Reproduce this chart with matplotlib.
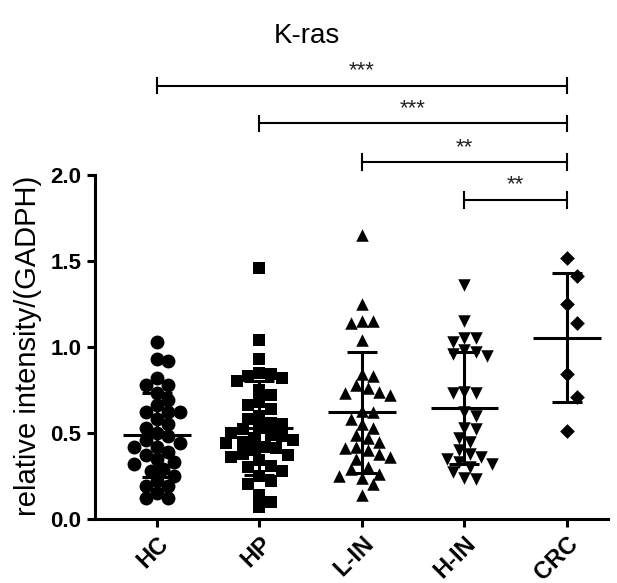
"""
K-ras relative intensity by group: scatter with mean +/- SD and significance brackets.
"""
import numpy as np
import matplotlib
matplotlib.use("Agg")
import matplotlib.pyplot as plt

plt.rcParams["font.family"] = ["Liberation Sans", "DejaVu Sans"]

# ---------------------------------------------------------------------------
# data
# ---------------------------------------------------------------------------
groups = ["HC", "HP", "L-IN", "H-IN", "CRC"]

hc = [1.03, 0.93, 0.92, 0.82, 0.78, 0.78, 0.73, 0.69, 0.66, 0.62, 0.62, 0.62,
      0.58, 0.55, 0.53, 0.50, 0.48, 0.46, 0.44, 0.42, 0.42, 0.39, 0.37, 0.35,
      0.33, 0.32, 0.29, 0.28, 0.25, 0.22, 0.19, 0.19, 0.15, 0.12, 0.12]
hp = [1.46, 1.04, 0.93, 0.85, 0.84, 0.83, 0.82, 0.80, 0.75, 0.72, 0.68, 0.66,
      0.64, 0.60, 0.58, 0.56, 0.55, 0.53, 0.52, 0.50, 0.49, 0.48, 0.47, 0.46,
      0.45, 0.44, 0.42, 0.41, 0.40, 0.38, 0.37, 0.36, 0.34, 0.31, 0.30, 0.28,
      0.25, 0.22, 0.20, 0.14, 0.10, 0.07]
l_in = [1.65, 1.25, 1.15, 1.15, 1.14, 1.04, 0.84, 0.83, 0.78, 0.76, 0.74,
        0.73, 0.72, 0.63, 0.62, 0.58, 0.55, 0.53, 0.49, 0.47, 0.45, 0.42,
        0.41, 0.40, 0.38, 0.36, 0.35, 0.30, 0.29, 0.26, 0.25, 0.24, 0.20, 0.14]
h_in = [1.36, 1.15, 1.05, 1.05, 1.03, 0.98, 0.97, 0.96, 0.95, 0.74, 0.73,
        0.73, 0.62, 0.60, 0.53, 0.52, 0.47, 0.45, 0.40, 0.38, 0.36, 0.35,
        0.33, 0.32, 0.30, 0.27, 0.24, 0.23]
crc = [1.515, 1.41, 1.25, 1.14, 0.84, 0.71, 0.51]

markers = ["o", "s", "^", "v", "D"]
marker_sizes = [10.0, 9.0, 9.0, 9.0, 7.5]

# significance brackets
sig_pairs = [(0, 4), (1, 4), (2, 4), (3, 4)]
sig_labels = ["***", "***", "**", "**"]
sig_heights = [2.52, 2.30, 2.075, 1.855]


def swarm_offsets(values, dx, dy, step):
    """Simple beeswarm: place each point at the smallest free x offset."""
    values = np.asarray(values, dtype=float)
    offsets = np.zeros(len(values))
    placed = []
    cands = [0.0]
    for k in range(1, 12):
        cands += [k * step, -k * step]
    for i in np.argsort(values)[::-1]:
        y = values[i]
        for c in cands:
            ok = all(((c - px) / dx) ** 2 + ((y - py) / dy) ** 2 >= 1.0
                     for px, py in placed)
            if ok:
                offsets[i] = c
                placed.append((c, y))
                break
    return offsets


fig = plt.figure(figsize=(6.17, 5.83), dpi=100)
ax = fig.add_axes([0.154, 0.110, 0.831, 0.787])

data = [hc, hp, l_in, h_in, crc]
for i, vals in enumerate(data):
    # CRC points are spread even though they barely overlap
    dy = 0.17 if i == 4 else 0.062
    off = swarm_offsets(vals, dx=0.105, dy=dy, step=0.1 if i == 4 else 0.055)
    ax.scatter(i + off, vals, marker=markers[i], s=marker_sizes[i] ** 2,
               color="black", linewidths=0, zorder=2)
    m = np.mean(vals)
    sd = np.std(vals, ddof=1)
    ax.hlines(m, i - 0.33, i + 0.33, color="black", lw=2.2, zorder=3)
    ax.errorbar(i, m, yerr=sd, fmt="none", ecolor="black", elinewidth=2.2,
                capsize=11, capthick=2.2, zorder=3)

for (a, b), lab, h in zip(sig_pairs, sig_labels, sig_heights):
    ax.plot([a, b], [h, h], color="black", lw=1.5, clip_on=False)
    for xe in (a, b):
        ax.plot([xe, xe], [h - 0.045, h + 0.045], color="black", lw=1.5,
                clip_on=False)
    ax.text((a + b) / 2, h + 0.025, lab, ha="center", va="bottom",
            fontsize=16, color="#222222")

ax.set_xlim(-0.605, 4.40)
ax.set_ylim(0, 2.669)
ax.spines["top"].set_visible(False)
ax.spines["right"].set_visible(False)
ax.spines["left"].set_bounds(0, 2.0)
ax.spines["left"].set_linewidth(2.2)
ax.spines["bottom"].set_linewidth(2.2)

ax.set_yticks([0.0, 0.5, 1.0, 1.5, 2.0])
ax.set_yticklabels(["0.0", "0.5", "1.0", "1.5", "2.0"], fontsize=16,
                   fontweight="bold")
ax.set_xticks(range(len(groups)))
ax.set_xticklabels(groups, rotation=45, ha="right", rotation_mode="anchor",
                   fontsize=17, fontweight="bold")
ax.tick_params(axis="both", width=2.2, length=6, direction="out")
ax.tick_params(axis="y", pad=4)

ax.set_ylabel("relative intensity/(GADPH)", fontsize=21, y=0.377, labelpad=6)
fig.text(0.497, 0.938, "K-ras", ha="center", va="center", fontsize=20)

fig.savefig("out.png", dpi=100)
